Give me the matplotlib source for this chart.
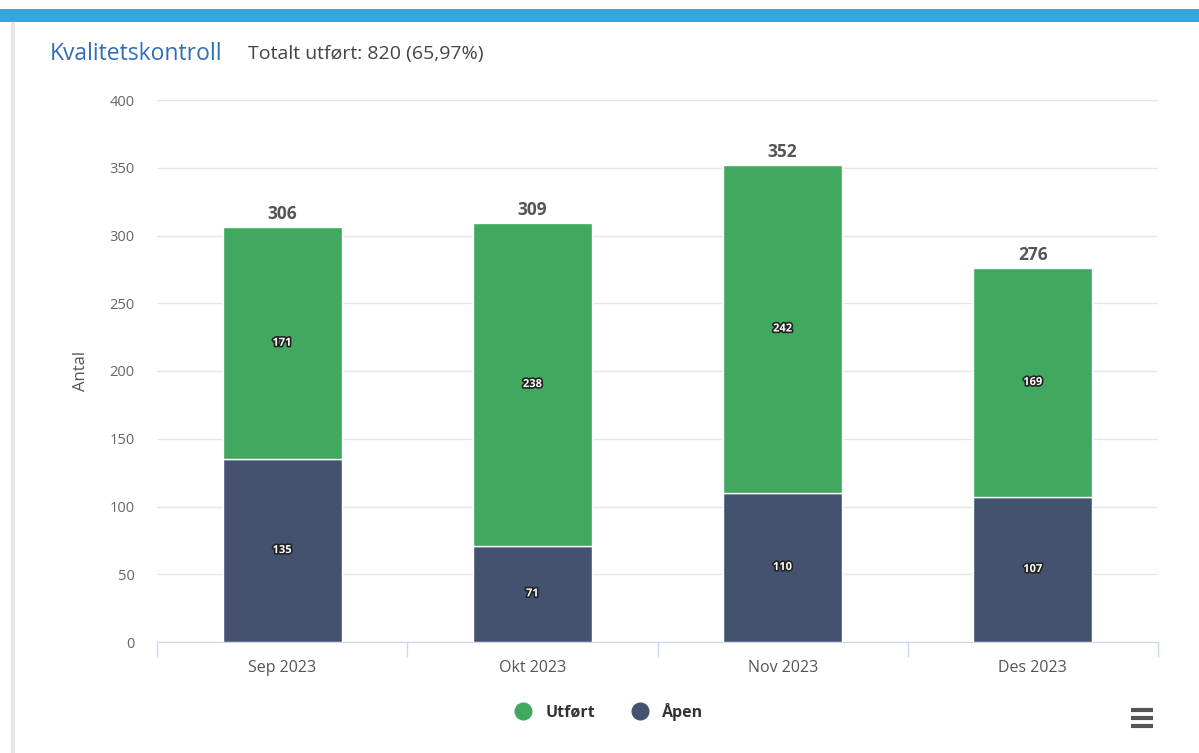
import matplotlib
matplotlib.use("Agg")
import matplotlib.pyplot as plt
import matplotlib.patheffects as pe
from matplotlib.lines import Line2D
from matplotlib.patches import Rectangle
import numpy as np

categories = ["Sep 2023", "Okt 2023", "Nov 2023", "Des 2023"]
utfort = [171, 238, 242, 169]
apen = [135, 71, 110, 107]
yticks = [0, 50, 100, 150, 200, 250, 300, 350, 400]
title = "Kvalitetskontroll"
subtitle = "Totalt utført: 820 (65,97%)"
series_names = ["Utført", "Åpen"]

GREEN = "#41a85f"
NAVY = "#45526f"
FONT = ["Open Sans", "DejaVu Sans"]
plt.rcParams['font.family'] = FONT

W, H = 1199, 753
fig = plt.figure(figsize=(W / 100, H / 100), dpi=100)
fig.patch.set_facecolor("white")

# top blue band and card border
fig.patches.append(Rectangle((0, 1 - 22 / H), 1, 13 / H, transform=fig.transFigure,
                             facecolor="#39a5dc", edgecolor="none", zorder=0))
fig.add_artist(Line2D([13 / W, 13 / W], [0, 1 - 22 / H], transform=fig.transFigure,
                      color="#e4e6ea", lw=3, zorder=0))

ax = fig.add_axes([157 / W, 1 - 642 / H, 1001 / W, 542 / H])
x = np.arange(len(categories))
bw = 0.476
ax.bar(x, apen, width=bw, color=NAVY, edgecolor="white", linewidth=1, zorder=3)
ax.bar(x, utfort, width=bw, bottom=apen, color=GREEN, edgecolor="white", linewidth=1, zorder=3)

outline = [pe.withStroke(linewidth=2.4, foreground="#222222")]
for i in range(len(categories)):
    ax.text(x[i], apen[i] / 2, str(apen[i]), ha="center", va="center", color="white",
            fontsize=8, fontweight="bold", path_effects=outline, zorder=5)
    ax.text(x[i], apen[i] + utfort[i] / 2, str(utfort[i]), ha="center", va="center",
            color="white", fontsize=8, fontweight="bold", path_effects=outline, zorder=5)
    tot = apen[i] + utfort[i]
    ax.annotate(str(tot), (x[i], tot), xytext=(0, 3), textcoords="offset points",
                ha="center", va="bottom", fontsize=12.5, fontweight="bold", color="#555555")

ax.set_xlim(-0.5, len(categories) - 0.5)
ax.set_ylim(0, 400)
ax.set_yticks(yticks)
ax.set_yticklabels([str(v) for v in yticks])
ax.tick_params(axis="y", length=0, pad=16, labelsize=10.5, labelcolor="#666666")
ax.set_xticks(x)
ax.set_xticklabels(categories)
ax.set_xticks(np.arange(-0.5, len(categories), 1), minor=True)
ax.tick_params(axis="x", which="major", length=0, pad=13, labelsize=11.5, labelcolor="#555555")
ax.tick_params(axis="x", which="minor", length=11, color="#ccd6eb", width=1)
ax.grid(axis="y", color="#e6e6e6", linewidth=1, zorder=0)
ax.set_axisbelow(True)
for s in ["top", "right", "left"]:
    ax.spines[s].set_visible(False)
ax.spines["bottom"].set_color("#ccd6eb")
ax.set_ylabel("Antal", fontsize=12, color="#555555")
ax.yaxis.set_label_coords(-0.068, 0.5)

fig.text(50 / W, 1 - 54 / H, title, fontsize=16.5, color="#2f6fb5", va="center", ha="left")
fig.text(248 / W, 1 - 54 / H, subtitle, fontsize=14, color="#444444", va="center", ha="left")

handles = [Line2D([], [], marker="o", linestyle="none", markersize=12, color=GREEN),
           Line2D([], [], marker="o", linestyle="none", markersize=12, color=NAVY)]
leg = fig.legend(handles, series_names, loc="center", bbox_to_anchor=(605 / W, 1 - 712 / H),
                 ncol=2, frameon=False, handletextpad=0.4, columnspacing=1.8,
                 prop={"weight": "bold", "size": 11.5})
for t in leg.get_texts():
    t.set_color("#333333")

# menu icon
for yy in [710, 718, 726]:
    fig.add_artist(Line2D([1131 / W, 1153 / W], [1 - yy / H, 1 - yy / H], transform=fig.transFigure,
                          color="#555555", lw=3, solid_capstyle="butt"))

fig.savefig("out.png", dpi=100)
